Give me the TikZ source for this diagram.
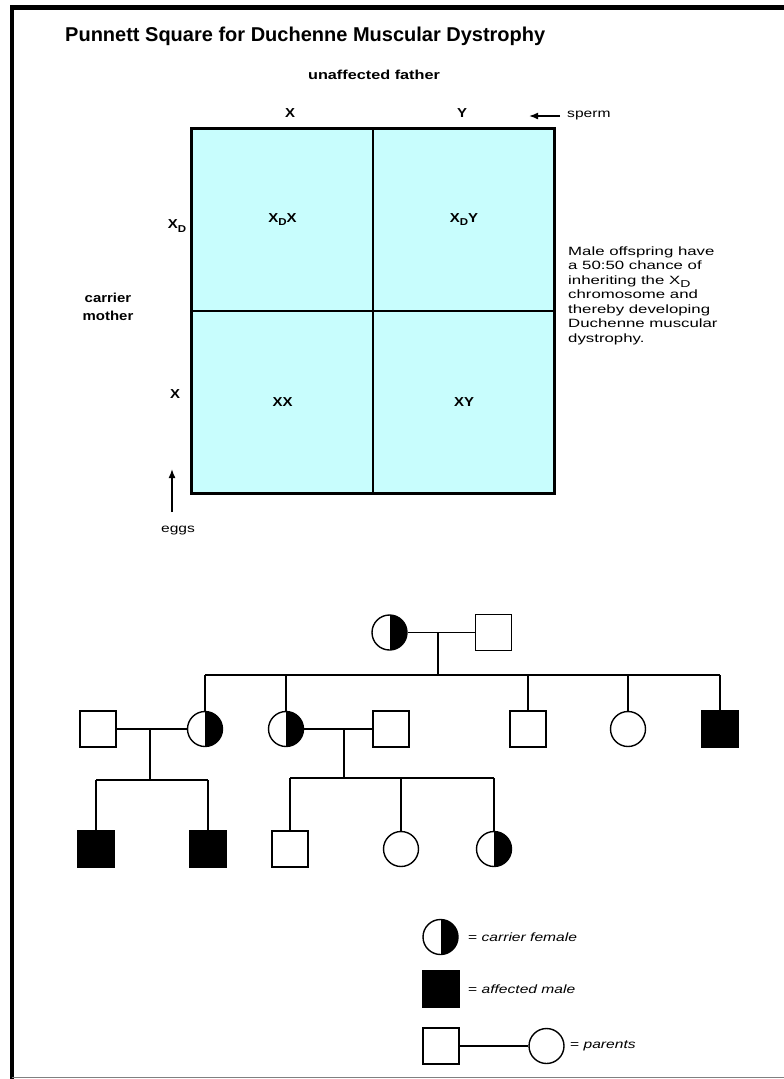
\documentclass[tikz,border=0pt]{standalone}
\usepackage{fontspec}
\setmainfont{Liberation Sans}
\usepackage{graphicx}
\usetikzlibrary{arrows.meta}
\definecolor{cellcyan}{RGB}{200,253,253}
\newcommand{\hsc}[2][1.3]{\scalebox{#1}[1]{#2}}
\newcommand{\subD}{\raisebox{-0.45ex}{\fontsize{10}{10}\selectfont D}}
\begin{document}
\begin{tikzpicture}[x=1pt,y=-1pt,
  lbl/.style={inner sep=0pt, font=\fontsize{13}{15}\selectfont\bfseries},
  note/.style={inner sep=0pt, font=\fontsize{12}{14.5}\selectfont},
  cell/.style={draw, line width=1.6pt, fill=cellcyan, minimum width=181.5pt, minimum height=182.5pt, inner sep=0pt, outer sep=0pt, font=\fontsize{13}{15}\selectfont\bfseries},
  male/.style={draw, line width=1.4pt, fill=white, minimum size=36pt, inner sep=0pt},
  affmale/.style={male, fill=black},
  female/.style={circle, draw, line width=1.4pt, fill=white, minimum size=35pt, inner sep=0pt},
  carrier/.style={female, path picture={\fill[black] (path picture bounding box.north) rectangle (path picture bounding box.south east);}},
  link/.style={line width=1.9pt},
  ptr/.style={line width=1.6pt, -{Latex[length=9pt,width=7pt]}},
]
\useasboundingbox (0,0) rectangle (784,1079);
% frame
\draw[line width=5pt] (10,7) -- (784,7);
\draw[line width=4pt] (12,5) -- (12,1079);
\draw[gray, line width=1.5pt] (12,1077.5) -- (784,1077.5);

% title
\node[anchor=west, inner sep=0pt, font=\fontsize{20}{24}\selectfont\bfseries] (title) at (65,36) {Punnett Square for Duchenne Muscular Dystrophy};

% Punnett square
\node[cell] (c11) at (282.5,219.5) {\hsc[1.15]{X\subD X}};
\node[cell] (c12) at (464,219.5) {\hsc[1.15]{X\subD Y}};
\node[cell] (c21) at (282.5,402) {\hsc[1.15]{XX}};
\node[cell] (c22) at (464,402) {\hsc[1.15]{XY}};
\draw[line width=3pt] (c11.north west) rectangle (c22.south east);

\node[lbl] (father) at (374,75) {\hsc[1.25]{unaffected father}};
\node[lbl] (sx) at (290,113) {\hsc[1.15]{X}};
\node[lbl] (sy) at (462,113) {\hsc[1.15]{Y}};
\coordinate (spt) at (560,116);
\coordinate (sph) at (529,116);
\draw[ptr] (spt) -- (sph);
\node[note, anchor=west] (sperm) at (567,116) {\hsc{sperm}};

\node[lbl] (mxd) at (177,226) {\hsc[1.15]{X\subD}};
\node[lbl, align=center, font=\fontsize{13}{18}\selectfont\bfseries] (mother) at (108,307) {\hsc[1.15]{carrier}\\\hsc[1.15]{mother}};
\node[lbl] (mx) at (175,394) {\hsc[1.15]{X}};
\coordinate (egt) at (172,512);
\coordinate (egh) at (172,469);
\draw[ptr] (egt) -- (egh);
\node[note] (eggs) at (178,531) {\hsc{eggs}};

\node[note, anchor=north west] (side) at (568,245) {\hsc[1.4]{\begin{tabular}{@{}l@{}}Male offspring have\\ a 50:50 chance of\\ inheriting the X\subD\\ chromosome and\\ thereby developing\\ Duchenne muscular\\ dystrophy.\end{tabular}}};

% pedigree generation 1
\node[carrier] (gm) at (389.5,632.5) {};
\node[male] (gf) at (493.5,632.5) {};
\draw[link] (gm) -- (gf);
\coordinate (m1) at (438,632.5);
\coordinate (b1) at (438,675);
\draw[link] (m1) -- (b1);

% generation 2
\node[male] (h1) at (98,729) {};
\node[carrier] (d1) at (205,729) {};
\node[carrier] (d2) at (286,729) {};
\node[male] (h2) at (391,729) {};
\node[male] (s3) at (528,729) {};
\node[female] (d3) at (628,729) {};
\node[affmale] (s4) at (720,729) {};
\draw[link] (d1.north |- b1) -- (s4.north |- b1);
\foreach \n in {d1,d2,s3,d3,s4} \draw[link] (\n.north |- b1) -- (\n.north);

% couple 1
\draw[link] (h1) -- (d1);
\coordinate (m2) at (150,729);
\coordinate (b2) at (150,780);
\draw[link] (m2) -- (b2);
% couple 2
\draw[link] (d2) -- (h2);
\coordinate (m3) at (344,729);
\coordinate (b3) at (344,778);
\draw[link] (m3) -- (b3);

% generation 3
\node[affmale] (a1) at (96,849) {};
\node[affmale] (a2) at (208,849) {};
\node[male] (g1) at (290,849) {};
\node[female] (g2) at (401,849) {};
\node[carrier] (g3) at (494,849) {};
\draw[link] (a1.north |- b2) -- (a2.north |- b2);
\foreach \n in {a1,a2} \draw[link] (\n.north |- b2) -- (\n.north);
\draw[link] (g1.north |- b3) -- (g3.north |- b3);
\foreach \n in {g1,g2,g3} \draw[link] (\n.north |- b3) -- (\n.north);

% legend
\node[carrier] (L1) at (440.5,937) {};
\node[note, anchor=west] (t1) at (468,937) {\hsc{= \itshape carrier female}};
\node[affmale] (L2) at (441,989) {};
\node[note, anchor=west] (t2) at (468,989) {\hsc{= \itshape affected male}};
\node[male] (L3) at (441,1046) {};
\node[female] (L4) at (546.5,1046) {};
\draw[link] (L3) -- (L4);
\node[note, anchor=west] (t3) at (570,1046) {\hsc{= \itshape parents}};
\end{tikzpicture}
\end{document}
